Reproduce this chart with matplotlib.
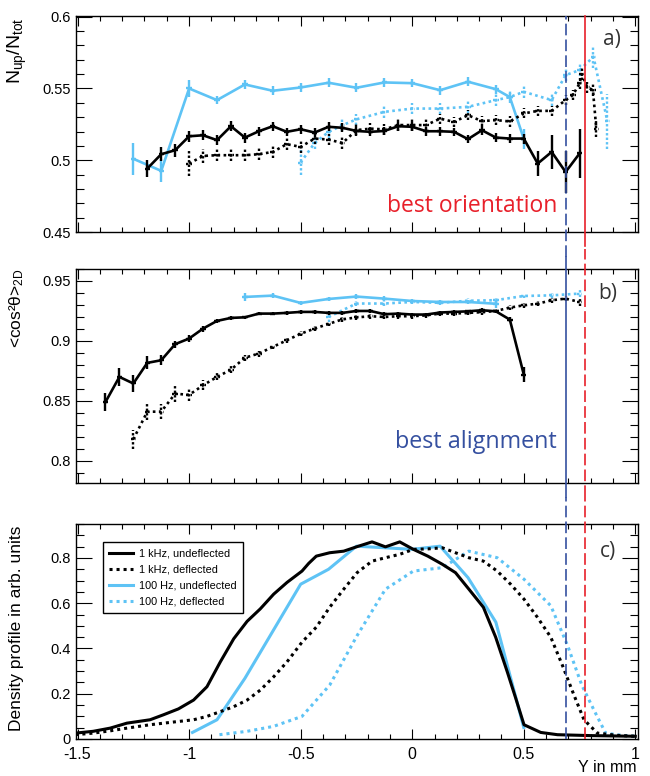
import matplotlib
matplotlib.use('Agg')
import matplotlib.pyplot as plt
from matplotlib.ticker import MultipleLocator, FuncFormatter
from matplotlib.transforms import blended_transform_factory

plt.rcParams['mathtext.fontset'] = 'custom'
plt.rcParams['mathtext.rm'] = 'Liberation Sans'
plt.rcParams['mathtext.it'] = 'Liberation Sans:italic'

# ---------------- data ----------------
# panel a) N_up/N_tot
a_1k_und_x = [-1.1875, -1.125, -1.0625, -1.0, -0.9375, -0.875, -0.8125, -0.75, -0.6875, -0.625,
              -0.5625, -0.5, -0.4375, -0.375, -0.3125, -0.25, -0.1875, -0.125, -0.0625, 0.0,
              0.0625, 0.125, 0.1875, 0.25, 0.3125, 0.375, 0.4375, 0.5, 0.5625, 0.625, 0.6875, 0.75]
a_1k_und_y = [0.4942, 0.5042, 0.5070, 0.5167, 0.5174, 0.5140, 0.5237, 0.5158, 0.5202, 0.5237,
              0.5198, 0.5216, 0.5193, 0.5233, 0.5226, 0.5204, 0.5198, 0.5204, 0.5237, 0.5233,
              0.5202, 0.5202, 0.5198, 0.5147, 0.5209, 0.5158, 0.5151, 0.5151, 0.4977, 0.5058, 0.4918, 0.5047]
a_1k_und_e = [0.006, 0.005, 0.0045, 0.004, 0.0035, 0.0035, 0.0035, 0.0035, 0.003, 0.003,
              0.003, 0.003, 0.003, 0.003, 0.003, 0.003, 0.003, 0.003, 0.003, 0.003,
              0.003, 0.003, 0.003, 0.003, 0.003, 0.003, 0.003, 0.0035, 0.0087, 0.012, 0.0145, 0.017]

a_1k_def_x = [-1.0, -0.9375, -0.875, -0.8125, -0.75, -0.6875, -0.625, -0.5625, -0.5, -0.4375,
              -0.375, -0.3125, -0.25, -0.1875, -0.125, -0.0625, 0.0, 0.0625, 0.125, 0.1875,
              0.25, 0.3125, 0.375, 0.4375, 0.5, 0.5625, 0.625, 0.6875, 0.72, 0.75, 0.76, 0.785, 0.81, 0.825]
a_1k_def_y = [0.4977, 0.5030, 0.5035, 0.5035, 0.5035, 0.5042, 0.5058, 0.5112, 0.5093, 0.5151,
              0.5144, 0.5120, 0.5210, 0.5220, 0.5215, 0.5245, 0.5245, 0.5245, 0.5290, 0.5267,
              0.5314, 0.5272, 0.5280, 0.5270, 0.5326, 0.5344, 0.5344, 0.5419, 0.5454, 0.5535, 0.5600, 0.5507, 0.5490, 0.5220]
a_1k_def_e = [0.0087, 0.005, 0.004, 0.004, 0.004, 0.004, 0.004, 0.004, 0.004, 0.004,
              0.004, 0.004, 0.004, 0.004, 0.004, 0.004, 0.004, 0.004, 0.0035, 0.0035,
              0.0035, 0.0035, 0.0035, 0.0035, 0.0035, 0.0035, 0.0035, 0.0035, 0.0035, 0.004, 0.004, 0.004, 0.004, 0.006]

a_100_und_x = [-1.25, -1.125, -1.0, -0.875, -0.75, -0.625, -0.5, -0.375, -0.25, -0.125,
               0.0, 0.125, 0.25, 0.375, 0.4375, 0.5]
a_100_und_y = [0.501, 0.4926, 0.550, 0.5419, 0.5528, 0.5484, 0.5507, 0.554, 0.5505, 0.5542,
               0.5537, 0.5488, 0.5547, 0.5495, 0.544, 0.515]
a_100_und_e = [0.011, 0.008, 0.006, 0.003, 0.003, 0.003, 0.003, 0.003, 0.003, 0.003,
               0.003, 0.003, 0.003, 0.003, 0.003, 0.007]

a_100_def_x = [-0.5, -0.4375, -0.375, -0.3125, -0.25, -0.125, 0.0, 0.125, 0.25, 0.375,
               0.4375, 0.5, 0.625, 0.6875, 0.75, 0.8125, 0.875]
a_100_def_y = [0.4984, 0.512, 0.5197, 0.5244, 0.5285, 0.5337, 0.536, 0.536, 0.5372, 0.5419,
               0.544, 0.5477, 0.5419, 0.5593, 0.5628, 0.5721, 0.527]
a_100_def_e = [0.009, 0.004, 0.004, 0.004, 0.004, 0.004, 0.004, 0.004, 0.004, 0.004,
               0.004, 0.004, 0.004, 0.004, 0.004, 0.0075, 0.019]

# panel b) <cos^2 theta>_2D
b_1k_und_x = [-1.375 + 0.0625 * i for i in range(31)]
b_1k_und_y = [0.849, 0.870, 0.8645, 0.8817, 0.8839, 0.8973, 0.902, 0.9103, 0.9167, 0.9192,
              0.9197, 0.9228, 0.9228, 0.9234, 0.9242, 0.9242, 0.9234, 0.9234, 0.925, 0.925,
              0.9223, 0.9228, 0.922, 0.922, 0.9237, 0.9242, 0.9247, 0.9256, 0.9247, 0.9178, 0.872]
b_1k_und_e = [0.0076, 0.0076, 0.007, 0.0055, 0.004, 0.003, 0.003, 0.0025, 0.002, 0.002,
              0.0015, 0.0015, 0.0015, 0.0015, 0.0015, 0.0015, 0.0015, 0.0015, 0.0015, 0.0015,
              0.0015, 0.0015, 0.0015, 0.0015, 0.0015, 0.0015, 0.0015, 0.0015, 0.0015, 0.002, 0.006]

b_1k_def_x = [-1.25 + 0.0625 * i for i in range(33)]
b_1k_def_y = [0.818, 0.841, 0.841, 0.856, 0.855, 0.863, 0.870, 0.876, 0.886, 0.8895,
              0.895, 0.9005, 0.906, 0.9103, 0.9142, 0.918, 0.9196, 0.9206, 0.920, 0.9206,
              0.9206, 0.9214, 0.9228, 0.9228, 0.9234, 0.9240, 0.925, 0.9278, 0.9297, 0.9311,
              0.9339, 0.9353, 0.9325]
b_1k_def_e = [0.008, 0.007, 0.0065, 0.007, 0.005, 0.004, 0.003, 0.003, 0.0025, 0.0025,
              0.002, 0.002, 0.002, 0.002, 0.002, 0.002, 0.002, 0.002, 0.002, 0.002,
              0.002, 0.002, 0.002, 0.002, 0.002, 0.002, 0.002, 0.002, 0.002, 0.002,
              0.002, 0.002, 0.003]

b_100_und_x = [-0.75, -0.625, -0.5, -0.375, -0.25, -0.125, 0.0, 0.125, 0.25, 0.375]
b_100_und_y = [0.9367, 0.9378, 0.9317, 0.935, 0.937, 0.9353, 0.9333, 0.9325, 0.9325, 0.931]
b_100_und_e = [0.003, 0.002, 0.002, 0.002, 0.002, 0.002, 0.002, 0.002, 0.002, 0.0035]

b_100_def_x = [-0.375, -0.25, -0.125, 0.0, 0.125, 0.25, 0.375, 0.5, 0.625, 0.75]
b_100_def_y = [0.920, 0.9312, 0.9312, 0.9325, 0.9318, 0.9335, 0.934, 0.9375, 0.938, 0.9395]
b_100_def_e = [0.004, 0.002, 0.002, 0.002, 0.002, 0.002, 0.002, 0.002, 0.002, 0.003]

# panel c) density profiles
c_1k_und_x = [-1.51, -1.43, -1.354, -1.279, -1.175, -1.115, -1.048, -0.98, -0.92, -0.86,
              -0.80, -0.74, -0.681, -0.621, -0.561, -0.494, -0.464, -0.43, -0.37, -0.307,
              -0.247, -0.18, -0.12, -0.056, 0.005, 0.07, 0.135, 0.194, 0.254, 0.319,
              0.374, 0.426, 0.464, 0.501, 0.576, 0.651, 0.80, 1.0]
c_1k_und_y = [0.026, 0.034, 0.048, 0.07, 0.085, 0.107, 0.133, 0.172, 0.231, 0.341,
              0.443, 0.52, 0.575, 0.64, 0.692, 0.742, 0.776, 0.808, 0.823, 0.830,
              0.85, 0.871, 0.849, 0.871, 0.838, 0.808, 0.772, 0.735, 0.662, 0.582,
              0.45, 0.297, 0.18, 0.063, 0.029, 0.019, 0.015, 0.012]

c_1k_def_x = [-1.51, -1.43, -1.354, -1.279, -1.175, -1.07, -0.98, -0.92, -0.86, -0.80,
              -0.74, -0.681, -0.621, -0.561, -0.494, -0.43, -0.37, -0.307, -0.247, -0.18,
              -0.12, -0.056, 0.005, 0.07, 0.135, 0.194, 0.254, 0.319, 0.381, 0.441,
              0.501, 0.561, 0.621, 0.673, 0.725, 0.77, 0.83, 0.92, 1.0]
c_1k_def_y = [0.019, 0.026, 0.036, 0.048, 0.063, 0.075, 0.085, 0.1, 0.121, 0.143,
              0.172, 0.216, 0.275, 0.341, 0.428, 0.494, 0.582, 0.662, 0.735, 0.786,
              0.801, 0.816, 0.838, 0.84, 0.845, 0.823, 0.801, 0.786, 0.742, 0.684,
              0.618, 0.538, 0.45, 0.326, 0.194, 0.085, 0.026, 0.016, 0.012]

c_100_und_x = [-0.985, -0.875, -0.75, -0.5, -0.375, -0.25, 0.0, 0.125, 0.25, 0.375, 0.5]
c_100_und_y = [0.029, 0.085, 0.268, 0.684, 0.75, 0.852, 0.838, 0.852, 0.713, 0.516, 0.051]

c_100_def_x = [-0.864, -0.74, -0.621, -0.494, -0.37, -0.247, -0.12, 0.005, 0.135, 0.254,
               0.381, 0.501, 0.621, 0.696, 0.76, 0.818, 0.867, 0.94, 1.0]
c_100_def_y = [0.019, 0.034, 0.056, 0.1, 0.238, 0.457, 0.662, 0.742, 0.757, 0.830,
               0.801, 0.706, 0.589, 0.414, 0.238, 0.121, 0.026, 0.016, 0.012]

legend_labels = ['1 kHz, undeflected', '1 kHz, deflected', '100 Hz, undeflected', '100 Hz, deflected']

x_best_alignment = 0.69
x_best_orientation = 0.775

# ---------------- style ----------------
LBLUE = '#5ec3f5'
RED = '#e8202a'
DBLUE = '#3550a0'
TXTGRAY = '#333333'
TICKFONT = 'Liberation Sans'
DOT = (0, (1.0, 1.3))
LW = 1.9

W, H = 650, 776
fig = plt.figure(figsize=(W / 100, H / 100), dpi=100)


def fx(px):
    return px / W


def fy(py):
    return 1 - py / H


def make_axes(top, bottom):
    return fig.add_axes([fx(76), fy(bottom), fx(638) - fx(76), (bottom - top) / H])


ax_a = make_axes(16, 232)
ax_b = make_axes(269, 483)
ax_c = make_axes(524, 739)

fmt = FuncFormatter(lambda v, p: '%g' % round(v, 4))

for ax in (ax_a, ax_b, ax_c):
    ax.set_xlim(-1.507, 1.012)
    ax.xaxis.set_major_locator(MultipleLocator(0.5))
    ax.xaxis.set_minor_locator(MultipleLocator(0.1))
    ax.tick_params(which='both', direction='in', top=True, right=True, width=0.8)
    ax.tick_params(axis='x', which='major', length=7)
    ax.tick_params(axis='x', which='minor', length=3.6)
    ax.tick_params(axis='y', which='major', length=11.5, labelsize=10.5, pad=4)
    ax.tick_params(axis='y', which='minor', length=5.8)
    ax.tick_params(axis='x', labelsize=11.5, pad=5.8)
    ax.yaxis.set_major_formatter(fmt)
    ax.xaxis.set_major_formatter(fmt)
    for s in ax.spines.values():
        s.set_linewidth(1.0)
    for lab in ax.get_xticklabels() + ax.get_yticklabels():
        lab.set_family(TICKFONT)

ax_a.set_ylim(0.45, 0.6005)
ax_a.yaxis.set_major_locator(MultipleLocator(0.05))
ax_a.yaxis.set_minor_locator(MultipleLocator(0.01))
ax_b.set_ylim(0.7815, 0.96)
ax_b.yaxis.set_major_locator(MultipleLocator(0.05))
ax_b.yaxis.set_minor_locator(MultipleLocator(0.01))
ax_c.set_ylim(0, 0.95)
ax_c.yaxis.set_major_locator(MultipleLocator(0.2))
ax_c.yaxis.set_minor_locator(MultipleLocator(0.05))
ax_a.tick_params(axis='x', labelbottom=False)
ax_b.tick_params(axis='x', labelbottom=False)


def eplot(ax, x, y, e, color, dotted, z):
    ls = DOT if dotted else '-'
    res = ax.errorbar(x, y, yerr=e, xerr=0.012, color=color, lw=LW, linestyle=ls,
                      elinewidth=LW * 0.9, capsize=0, zorder=z)
    res[0].set_dash_capstyle('butt')
    for col in res[2]:
        if dotted:
            col.set_linestyle((0, (1.0, 0.9)))
    return res


eplot(ax_a, a_100_def_x, a_100_def_y, a_100_def_e, LBLUE, True, 2)
eplot(ax_a, a_100_und_x, a_100_und_y, a_100_und_e, LBLUE, False, 3)
eplot(ax_a, a_1k_def_x, a_1k_def_y, a_1k_def_e, 'black', True, 4)
eplot(ax_a, a_1k_und_x, a_1k_und_y, a_1k_und_e, 'black', False, 5)

eplot(ax_b, b_100_def_x, b_100_def_y, b_100_def_e, LBLUE, True, 2)
eplot(ax_b, b_100_und_x, b_100_und_y, b_100_und_e, LBLUE, False, 3)
eplot(ax_b, b_1k_def_x, b_1k_def_y, b_1k_def_e, 'black', True, 4)
eplot(ax_b, b_1k_und_x, b_1k_und_y, b_1k_und_e, 'black', False, 5)

h1, = ax_c.plot(c_1k_und_x, c_1k_und_y, color='black', lw=LW + 0.3, zorder=5)
h2, = ax_c.plot(c_1k_def_x, c_1k_def_y, color='black', lw=LW + 0.3, linestyle=DOT, zorder=4)
h3, = ax_c.plot(c_100_und_x, c_100_und_y, color=LBLUE, lw=LW + 0.3, zorder=3)
h4, = ax_c.plot(c_100_def_x, c_100_def_y, color=LBLUE, lw=LW + 0.3, linestyle=DOT, zorder=2)
for h in (h2, h4):
    h.set_dash_capstyle('butt')

leg = ax_c.legend([h1, h2, h3, h4], legend_labels, loc='upper left',
                  bbox_to_anchor=(0.048, 0.916), borderaxespad=0, fancybox=False,
                  edgecolor='black', framealpha=1, prop={'family': TICKFONT, 'size': 7.8},
                  handlelength=2.2, handletextpad=0.55, labelspacing=0.55, borderpad=0.6)
leg.get_frame().set_linewidth(1.0)

# vertical marker lines (spanning the gaps between panels)
DASH = (0, (7, 2.5))


def vline(ax, x, top_py, bot_py, color, ls, lw=1.2):
    tr = blended_transform_factory(ax.transData, ax.transAxes)
    bb = ax.get_position()
    y0 = (fy(bot_py) - bb.y0) / bb.height
    y1 = (fy(top_py) - bb.y0) / bb.height
    ax.plot([x, x], [y0, y1], transform=tr, color=color, lw=lw, linestyle=ls,
            clip_on=False, zorder=6)


vline(ax_a, x_best_alignment, 16, 257, DBLUE, DASH)
vline(ax_a, x_best_orientation, 16, 246, RED, '-')
vline(ax_b, x_best_alignment, 257, 497, DBLUE, '-')
vline(ax_b, x_best_orientation, 249, 497, RED, DASH)
vline(ax_c, x_best_alignment, 497, 739, DBLUE, DASH)
vline(ax_c, x_best_orientation, 497, 739, RED, DASH)

# texts
LABFONT = 'Open Sans'
fig.text(fx(612), fy(39), 'a)', ha='center', va='center', fontsize=15, family=LABFONT, color=TXTGRAY)
fig.text(fx(608), fy(294), 'b)', ha='center', va='center', fontsize=15, family=LABFONT, color=TXTGRAY)
fig.text(fx(608), fy(552), 'c)', ha='center', va='center', fontsize=15, family=LABFONT, color=TXTGRAY)
fig.text(fx(557), fy(206), 'best orientation', ha='right', va='center', fontsize=16.5,
         family=LABFONT, color=RED)
fig.text(fx(557), fy(442), 'best alignment', ha='right', va='center', fontsize=16.8,
         family=LABFONT, color=DBLUE)

YLFONT = TICKFONT
fig.text(fx(17), fy(17), r'N$_{\mathrm{up}}$/N$_{\mathrm{tot}}$', rotation=90, ha='center', va='top',
         fontsize=14, family=YLFONT)
fig.text(fx(17), fy(268), '<cos²θ>$_{\\mathrm{2D}}$', rotation=90, ha='center', va='top',
         fontsize=12.5, family=YLFONT)
fig.text(fx(17), fy(628), 'Density profile in arb. units', rotation=90, ha='center', va='center',
         fontsize=12.5, family=YLFONT)
fig.text(fx(637), fy(775.5), 'Y in mm', ha='right', va='bottom', fontsize=11.5, family=YLFONT)

fig.savefig('out.png', dpi=100)
